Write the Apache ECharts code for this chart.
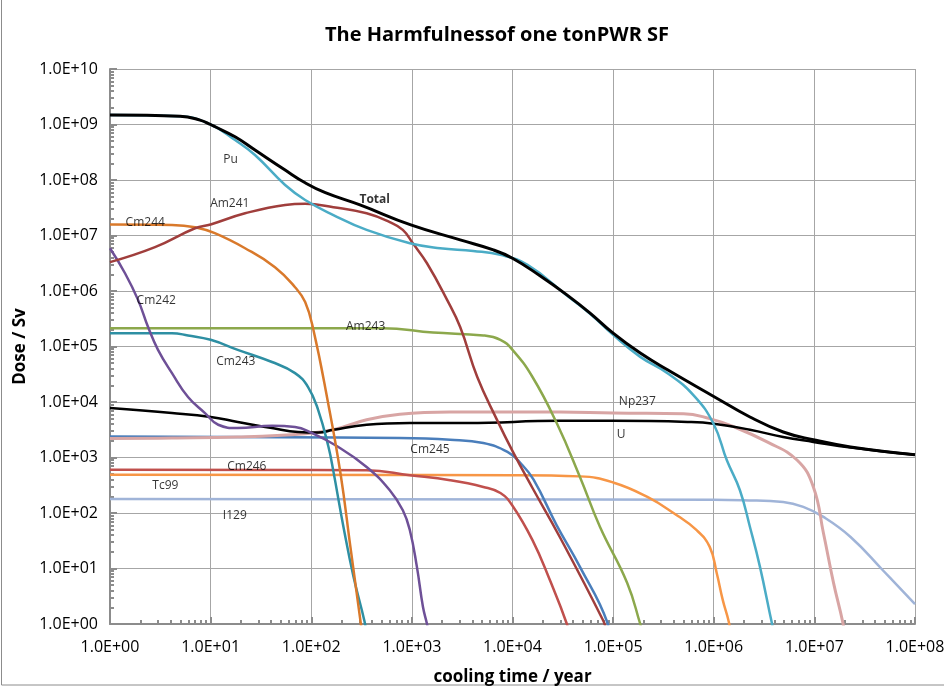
<!DOCTYPE html>
<html>
<head>
<meta charset="utf-8">
<script src="https://cdn.jsdelivr.net/npm/echarts@6/dist/echarts.min.js"></script>
<style>
html,body{margin:0;padding:0;background:#fff;}
#chart{width:944px;height:687px;}
</style>
</head>
<body>
<div id="chart"></div>
<script>
// ---- data: [cooling time (year), dose (Sv)] ----
const totalData = [[1,1.48e9],[4.97,1.41e9],[7.85,1.2e9],[10,1.0e9],[11.1,9.1e8],[17.5,6.0e8],[27.6,3.47e8],[55,1.51e8],[87,8.9e7],[138,5.9e7],[305,3.55e7],[977,1.55e7],[3020,8.32e6],[6457,5.5e6],[1e4,3.9e6],[1.86e4,1.9e6],[3.47e4,8.51e5],[5.9e4,4.0e5],[1e5,1.74e5],[1.86e5,7.6e4],[3.47e5,3.8e4],[1e6,1.26e4],[2.29e6,5.37e3],[4.9e6,2.88e3],[9.77e6,2.09e3],[2.29e7,1.55e3],[1e8,1.12e3]];
const puData = [[1,1.48e9],[4.97,1.41e9],[10,1.0e9],[17.5,5.25e8],[27.6,2.82e8],[55,8.13e7],[87,4.37e7],[166,2.34e7],[355,1.26e7],[955,7.24e6],[1905,5.89e6],[4074,5.25e6],[7586,4.47e6],[1.41e4,2.95e6],[3.47e4,8.32e5],[5.9e4,3.9e5],[1e5,1.62e5],[1.86e5,6.5e4],[3.47e5,3.31e4],[6.31e5,1.32e4],[1e6,3.98e3],[1.35e6,891],[1.82e6,257],[2.29e6,56],[2.88e6,10.7],[3.8e6,1.0],[4.17e6,0.5]];
const am241Data = [[1,3.31e6],[2.8,6.17e6],[7.0,1.35e7],[10,1.58e7],[22,2.51e7],[55,3.55e7],[87,3.72e7],[166,3.24e7],[355,2.51e7],[603,1.74e7],[813,1.26e7],[1023,7.24e6],[1413,3.16e6],[2239,6.92e5],[3020,2.24e5],[4467,2.82e4],[6918,5.01e3],[1.01e4,1.26e3],[1.58e4,282],[2.95e4,37],[7.94e4,1.17],[8.51e4,0.79]];
const cm244Data = [[1,1.58e7],[4.13,1.55e7],[7.0,1.41e7],[11,1.1e7],[22,5.89e6],[43.6,2.69e6],[69,1.17e6],[87,6.31e5],[105,2.0e5],[145,1.1e4],[195,525],[245,24.5],[309,1.1],[316,0.79]];
const cm242Data = [[1,5.89e6],[1.41,2.09e6],[1.9,6.92e5],[2.39,2.24e5],[3.0,8.71e4],[4.13,3.31e4],[5.96,1.23e4],[8.79,6.31e3],[11.9,3.89e3],[18.6,3.39e3],[40.7,3.72e3],[69,3.55e3],[102,2.75e3],[174,1.66e3],[355,676],[603,257],[813,112],[955,49],[1122,10.7],[1288,2.04],[1413,1.0],[1479,0.63]];
const am243Data = [[1,2.14e5],[10,2.14e5],[100,2.14e5],[513,2.14e5],[1622,1.78e5],[5129,1.58e5],[7586,1.32e5],[1e4,8.71e4],[1.58e4,2.82e4],[2.75e4,4.17e3],[4.68e4,447],[7.41e4,56],[1.38e5,5.5],[1.86e5,1.0],[2e5,0.63]];
const cm243Data = [[1,1.74e5],[4.13,1.74e5],[5.96,1.58e5],[10,1.32e5],[18.6,8.71e4],[40.7,5.25e4],[69,3.31e4],[93,1.86e4],[117,7.24e3],[148,1.58e3],[166,562],[209,56],[263,7.08],[339,1.1],[355,0.63]];
const uData = [[1,7.76e3],[4.13,6.31e3],[10,5.37e3],[18.6,4.37e3],[40.7,3.39e3],[74,2.88e3],[117,2.82e3],[166,3.16e3],[355,3.89e3],[955,4.17e3],[3548,4.17e3],[2.95e4,4.57e3],[1e5,4.57e3],[5.5e5,4.37e3],[1e6,4.07e3],[2.29e6,3.16e3],[4.9e6,2.34e3],[9.77e6,1.91e3],[2.29e7,1.51e3],[1e8,1.12e3]];
const np237Data = [[1,2.19e3],[4.13,2.24e3],[18.6,2.34e3],[87,2.69e3],[166,3.16e3],[355,4.79e3],[759,6.03e3],[2399,6.61e3],[2.95e4,6.61e3],[1e5,6.31e3],[5.01e5,6.17e3],[9.12e5,5.01e3],[1.55e6,3.63e3],[3.39e6,1.91e3],[6.76e6,891],[9.77e6,295],[1.23e7,43.7],[1.55e7,5.5],[1.91e7,1.1],[2e7,0.63]];
const cm245Data = [[1,2.4e3],[759,2.24e3],[2399,2.09e3],[5129,1.82e3],[8913,1.26e3],[1.2e4,794],[1.62e4,398],[2.75e4,60],[4.68e4,10.7],[8.71e4,1.1],[9.12e4,0.63]];
const cm246Data = [[1,603],[355,589],[955,479],[2399,389],[5129,295],[7586,229],[1e4,135],[1.58e4,32.4],[2.34e4,6.31],[3.47e4,1.0],[3.63e4,0.63]];
const tc99Data = [[1,490],[1e4,479],[4.68e4,457],[1e5,355],[2.19e5,195],[3.98e5,100],[6.76e5,49],[9.12e5,24.5],[1.07e6,8.32],[1.23e6,2.69],[1.41e6,1.1],[1.48e6,0.63]];
const i129Data = [[1,178],[1e6,174],[1.95e6,170],[4.9e6,158],[7.76e6,129],[1.23e7,85],[2.29e7,37],[4.79e7,9.3],[1e8,2.29]];

// in-chart series labels: [year, dose, text]
const seriesLabels = [
  [15.8,2.29e8,'Pu'],[15.5,3.72e7,'Am241'],[427,4.37e7,'Total'],[2.24,1.74e7,'Cm244'],
  [2.88,6.61e5,'Cm242'],[347,2.24e5,'Am243'],[17.8,5.25e4,'Cm243'],[1.74e5,1.0e4,'Np237'],
  [1.2e5,2.57e3,'U'],[1514,1.38e3,'Cm245'],[22.9,676,'Cm246'],[3.55,309,'Tc99'],[17.4,89,'I129']
];

const xTickLabels = ['1.0E+00','1.0E+01','1.0E+02','1.0E+03','1.0E+04','1.0E+05','1.0E+06','1.0E+07','1.0E+08'];
const yTickLabels = ['1.0E+00','1.0E+01','1.0E+02','1.0E+03','1.0E+04','1.0E+05','1.0E+06','1.0E+07','1.0E+08','1.0E+09','1.0E+10'];

// minor tick positions (2..9 within each decade)
function minorTicks(decades){
  const out=[];
  for(let d=0; d<decades; d++){ for(let k=2;k<=9;k++){ out.push(k*Math.pow(10,d)); } }
  return out;
}

const FONT = 'Open Sans';
const axisGray = '#8C8C8C';
const gridGray = '#A6A6A6';

const chart = echarts.init(document.getElementById('chart'), null, {renderer:'canvas'});

function lineSeries(name, data, color, width, z){
  return {
    name, type:'line', data, xAxisIndex:0, yAxisIndex:0,
    showSymbol:false, symbol:'none', smooth:0.45, clip:true,
    lineStyle:{color, width}, itemStyle:{color}, z: z||2,
    emphasis:{disabled:true}, silent:true
  };
}

const option = {
  animation:false,
  backgroundColor:'#ffffff',
  title:{
    text:'The Harmfulnessof one tonPWR SF',
    left:320, top:20,
    textStyle:{fontFamily:FONT, fontWeight:'bold', fontSize:20, color:'#000'}
  },
  grid:{left:110, right:29, top:69, bottom:63, containLabel:false, outerBoundsMode:'none'},
  xAxis:[{
    type:'log', logBase:10, min:1, max:1e8, interval:1, splitNumber:8,
    name:'cooling time / year', nameLocation:'middle', nameGap:45,
    nameTextStyle:{fontFamily:FONT, fontWeight:'bold', fontSize:17, color:'#000'},
    axisLine:{show:true, lineStyle:{color:axisGray, width:2}},
    axisTick:{show:true, inside:true, length:7, lineStyle:{color:axisGray, width:2}},
    axisLabel:{fontFamily:FONT, fontSize:16, color:'#000', margin:15,
      formatter:function(v){ return xTickLabels[Math.round(Math.log10(v))]; }},
    splitLine:{show:true, lineStyle:{color:gridGray, width:1}}
  },{
    type:'log', logBase:10, min:1, max:1e8, position:'bottom',
    axisLine:{show:false},
    axisTick:{show:true, inside:true, length:4, customValues:minorTicks(8), lineStyle:{color:axisGray, width:2}},
    axisLabel:{show:false},
    splitLine:{show:false}
  }],
  yAxis:[{
    type:'log', logBase:10, min:1, max:1e10, interval:1, splitNumber:10,
    name:'Dose / Sv', nameLocation:'middle', nameGap:74, nameRotate:90,
    nameTextStyle:{fontFamily:FONT, fontWeight:'bold', fontSize:17, color:'#000'},
    axisLine:{show:true, lineStyle:{color:axisGray, width:2}},
    axisTick:{show:true, inside:true, length:7, lineStyle:{color:axisGray, width:2}},
    axisLabel:{fontFamily:FONT, fontSize:16, color:'#000', margin:12,
      formatter:function(v){ return yTickLabels[Math.round(Math.log10(v))]; }},
    splitLine:{show:true, lineStyle:{color:gridGray, width:1}}
  },{
    type:'log', logBase:10, min:1, max:1e10, position:'left',
    axisLine:{show:false},
    axisTick:{show:true, inside:true, length:4, customValues:minorTicks(10), lineStyle:{color:axisGray, width:2}},
    axisLabel:{show:false},
    splitLine:{show:false}
  }],
  graphic:[{
    type:'rect', silent:true, z:-1,
    shape:{x:1.5, y:-5, width:960, height:690},
    style:{fill:null, stroke:'#8C8C8C', lineWidth:1}
  }],
  series:[
    lineSeries('I129', i129Data, '#A0B4D8', 2.5),
    lineSeries('Tc99', tc99Data, '#F79646', 2.5),
    lineSeries('Cm246', cm246Data, '#C0504D', 2.5),
    lineSeries('Cm245', cm245Data, '#4A7EBB', 2.5),
    lineSeries('Np237', np237Data, '#D8A5A4', 3),
    lineSeries('U', uData, '#000000', 2.5),
    lineSeries('Cm243', cm243Data, '#2E8FA3', 2.5),
    lineSeries('Am243', am243Data, '#8CA84C', 2.5),
    lineSeries('Cm242', cm242Data, '#6E5097', 2.5),
    lineSeries('Cm244', cm244Data, '#D9792B', 2.5),
    lineSeries('Am241', am241Data, '#A03E3C', 2.5),
    lineSeries('Pu', puData, '#4BACC6', 2.5),
    lineSeries('Total', totalData, '#000000', 3, 3),
    {
      name:'labels', type:'scatter', xAxisIndex:0, yAxisIndex:0,
      symbolSize:0, silent:true, z:10, clip:false,
      data: seriesLabels.map(function(d){ return {value:[d[0],d[1]], name:d[2]}; }),
      label:{show:true, position:'inside', color:'#000', fontFamily:FONT, fontSize:12,
        formatter:function(p){ return p.name; }},
      labelLayout:{hideOverlap:false}
    }
  ]
};
option.series[option.series.length-1].data.forEach(function(d){
  if(d.name==='Total'){ d.label={fontWeight:'bold', fontSize:12}; }
});
chart.setOption(option);
</script>
</body>
</html>
